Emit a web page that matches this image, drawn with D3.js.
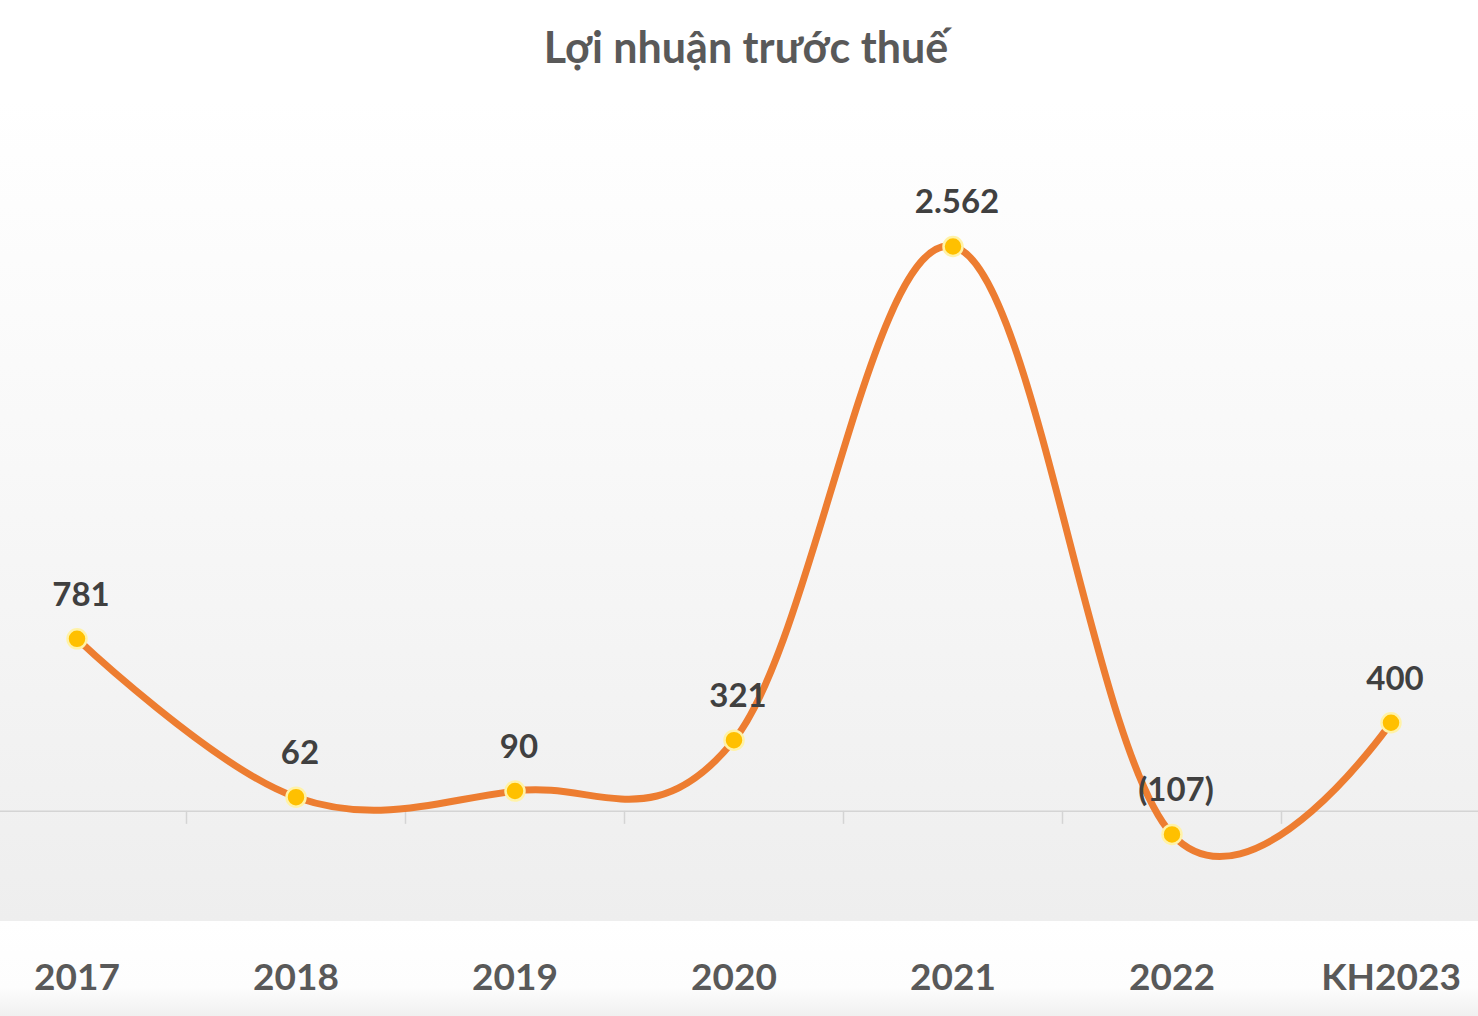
<!DOCTYPE html>
<meta charset="utf-8">
<title>Lợi nhuận trước thuế</title>
<style>
body {
	margin: 0;
	background: #fff;
}
svg text {
	font-family: Lato, "Open Sans", sans-serif;
	font-weight: bold;
}
</style>
<svg width="1478" height="1016"></svg>
<script src="https://d3js.org/d3.v7.min.js"></script>
<script>
var categories = ["2017", "2018", "2019", "2020", "2021", "2022", "KH2023"]
var profit = [781, 62, 90, 321, 2562, -107, 400]
var chartTitle = "Lợi nhuận trước thuế"

var svg = d3.select("svg"),
	width = +svg.attr("width"),
	height = +svg.attr("height")

var plotTop = 100, plotBottom = 921

// the first and last bands run past the picture edge, as in the original
var x = d3.scaleBand().domain(categories).range([-32.5, 1500.5])
var y = d3.scaleLinear().domain([-500, 3000]).range([plotBottom, 150])

var vi = d3.formatLocale({decimal: ",", thousands: ".", grouping: [3], currency: ["", ""]})
var fmt = vi.format(",d")
function label(v) { return v < 0 ? "(" + fmt(-v) + ")" : fmt(v) }

var defs = svg.append("defs")
var bg = defs.append("linearGradient").attr("id", "plotbg").attr("x1", 0).attr("y1", 0).attr("x2", 0).attr("y2", 1)
bg.append("stop").attr("offset", "0%").attr("stop-color", "#ffffff")
bg.append("stop").attr("offset", "45%").attr("stop-color", "#f8f8f8")
bg.append("stop").attr("offset", "100%").attr("stop-color", "#eeeeee")

var foot = defs.append("linearGradient").attr("id", "footbg").attr("x1", 0).attr("y1", 0).attr("x2", 0).attr("y2", 1)
foot.append("stop").attr("offset", "0%").attr("stop-color", "#ffffff")
foot.append("stop").attr("offset", "70%").attr("stop-color", "#fdfdfd")
foot.append("stop").attr("offset", "100%").attr("stop-color", "#f0f0f0")

svg.append("rect")
	.attr("x", 0).attr("y", plotTop)
	.attr("width", width).attr("height", plotBottom - plotTop)
	.attr("fill", "url(#plotbg)")

svg.append("rect")
	.attr("x", 0).attr("y", plotBottom)
	.attr("width", width).attr("height", height - plotBottom)
	.attr("fill", "url(#footbg)")

svg.append("text")
	.attr("x", 746).attr("y", 63)
	.attr("text-anchor", "middle")
	.attr("font-size", 43)
	.attr("fill", "#595959")
	.text(chartTitle)

// zero line with category ticks
var axis = d3.axisBottom(x).tickSize(0).tickFormat("")
var gAxis = svg.append("g").attr("transform", "translate(0," + y(0) + ")").call(axis)
gAxis.select(".domain").attr("stroke", "#d4d4d4").attr("stroke-width", 1.5)

svg.append("g")
	.selectAll("line")
	.data(categories.slice(1))
	.enter().append("line")
		.attr("x1", function(d) { return x(d) })
		.attr("x2", function(d) { return x(d) })
		.attr("y1", y(0))
		.attr("y2", y(0) + 13)
		.attr("stroke", "#d4d4d4")
		.attr("stroke-width", 1.5)

svg.append("g")
	.selectAll("text")
	.data(categories)
	.enter().append("text")
		.attr("x", function(d) { return x(d) + x.bandwidth() / 2 })
		.attr("y", 990)
		.attr("text-anchor", "middle")
		.attr("font-size", 37)
		.attr("fill", "#595959")
		.text(function(d) { return d })

var pts = categories.map(function(c, i) { return {cat: c, v: profit[i]} })

var line = d3.line()
	.x(function(d) { return x(d.cat) + x.bandwidth() / 2 })
	.y(function(d) { return y(d.v) })
	.curve(d3.curveCardinal.tension(-0.1))

svg.append("path")
	.datum(pts)
	.attr("d", line)
	.attr("fill", "none")
	.attr("stroke", "#ed7d31")
	.attr("stroke-width", 7)
	.attr("stroke-linecap", "round")

svg.append("g")
	.selectAll("circle")
	.data(pts)
	.enter().append("circle")
		.attr("cx", function(d) { return x(d.cat) + x.bandwidth() / 2 })
		.attr("cy", function(d) { return y(d.v) })
		.attr("r", 9.5)
		.attr("fill", "#ffc000")
		.attr("stroke", "#fff2a8")
		.attr("stroke-width", 2.5)

svg.append("g")
	.selectAll("text")
	.data(pts)
	.enter().append("text")
		.attr("x", function(d) { return x(d.cat) + x.bandwidth() / 2 + 4 })
		.attr("y", function(d) { return y(d.v) - 33 })
		.attr("text-anchor", "middle")
		.attr("font-size", 33)
		.attr("fill", "#404040")
		.text(function(d) { return label(d.v) })
</script>
